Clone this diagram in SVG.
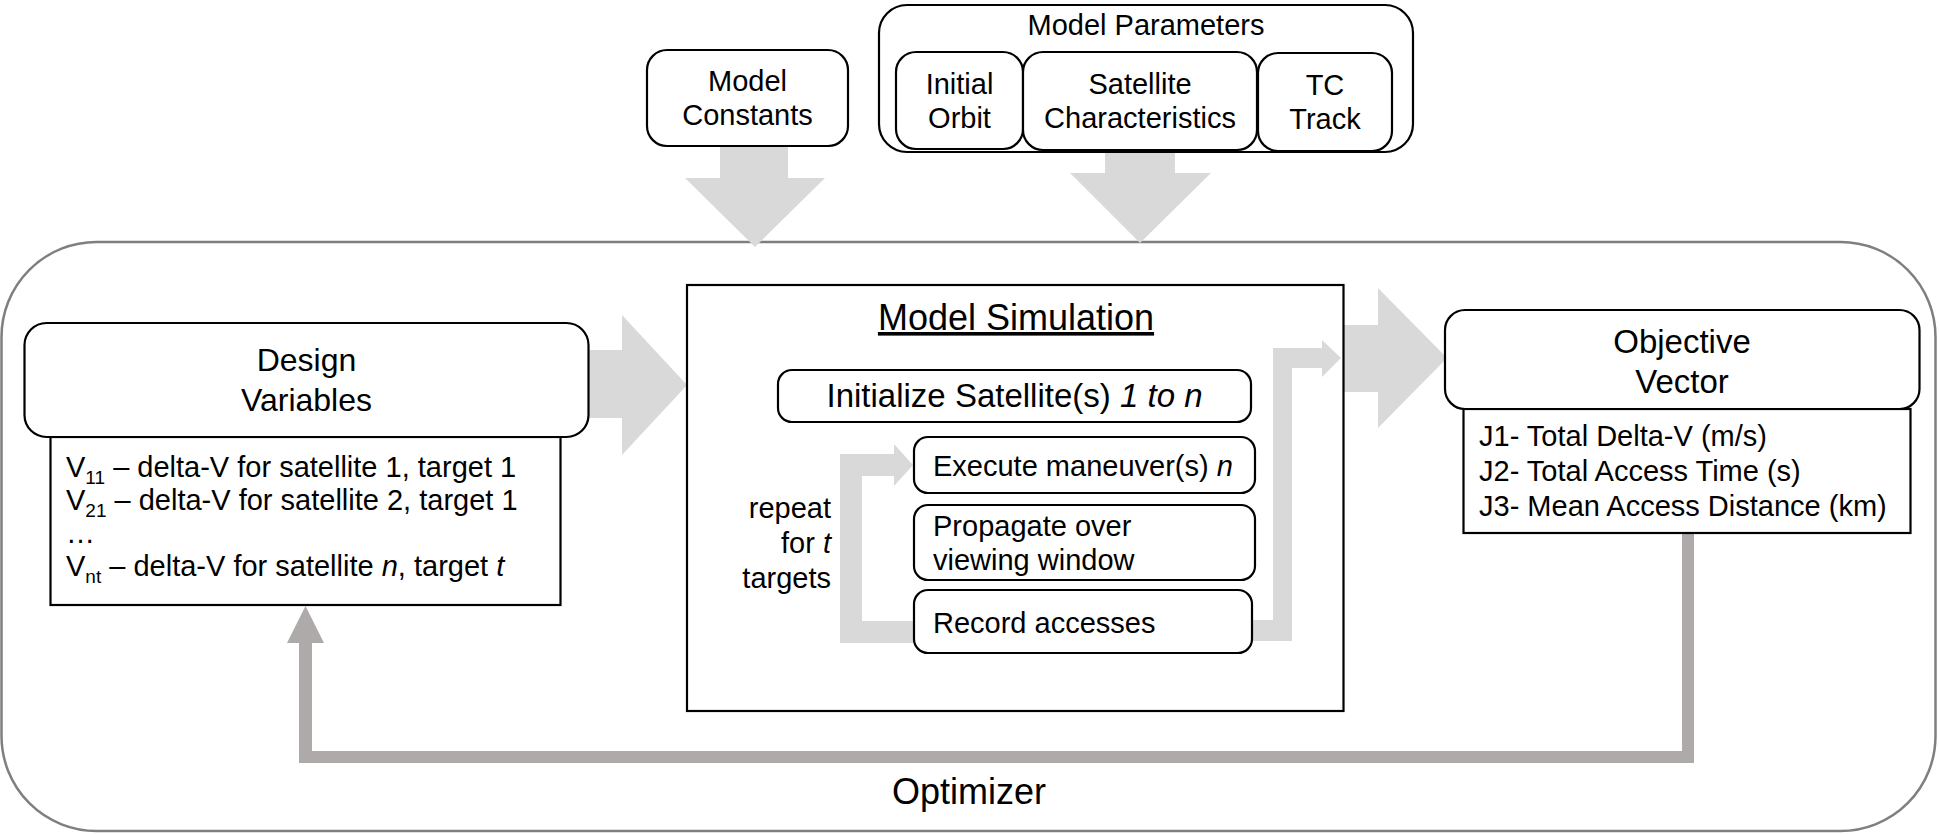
<svg xmlns="http://www.w3.org/2000/svg" width="1940" height="834" viewBox="0 0 1940 834">
<style>
text{font-family:"Liberation Sans",Arial,sans-serif;fill:#000}
.s29{font-size:29px}
.s33{font-size:33px}
.c{text-anchor:middle}
.r{text-anchor:end}
.box{fill:#fff;stroke:#000;stroke-width:2.2}
.frame{fill:none;stroke:#000;stroke-width:2.2}
.lt{fill:#d9d9d9;stroke:none}
.dk{fill:#aeaaaa;stroke:none}
</style>
<rect id="optimizer-frame" x="1.5" y="242" width="1934" height="589" rx="95" ry="95" fill="#fff" stroke="#7f7f7f" stroke-width="2.5"/>
<g id="connectors">
<path class="lt" d="M720 147 L788 147 L788 178 L825 178 L755 247 L685 178 L720 178 Z"/>
<path class="lt" d="M1105 153 L1175 153 L1175 173 L1211 173 L1140 243 L1070 173 L1105 173 Z"/>
<path class="lt" d="M588 350 L622 350 L622 315 L687 385 L622 455 L622 418 L588 418 Z"/>
<path class="lt" d="M1344 325 L1378 325 L1378 288 L1447 358 L1378 428 L1378 392 L1344 392 Z"/>
<path class="lt" d="M914 621 L862 621 L862 476 L894 476 L894 486 L913 465 L894 444 L894 454 L840 454 L840 643 L914 643 Z"/>
<path class="lt" d="M1253 620 L1273 620 L1273 348 L1322 348 L1322 340 L1341 358 L1322 377 L1322 368 L1292 368 L1292 641 L1253 641 Z"/>
<path class="dk" d="M1682 533 L1694 533 L1694 763 L299 763 L299 643 L287 643 L305.5 606 L324 643 L312 643 L312 751 L1682 751 Z"/>
</g>
<g id="model-constants">
<rect class="box" x="647" y="50" width="201" height="96" rx="20"/>
<text class="s29 c" x="747.5" y="91">Model</text>
<text class="s29 c" x="747.5" y="125">Constants</text>
</g>
<g id="model-parameters">
<rect class="box" x="879" y="5" width="534" height="147" rx="28"/>
<text class="s29 c" x="1146" y="35">Model Parameters</text>
</g>
<g id="initial-orbit">
<rect class="box" x="896" y="52" width="127" height="97" rx="20"/>
<text class="s29 c" x="959.5" y="94">Initial</text>
<text class="s29 c" x="959.5" y="128">Orbit</text>
</g>
<g id="satellite-characteristics">
<rect class="box" x="1023" y="52" width="234" height="98" rx="20"/>
<text class="s29 c" x="1140" y="94">Satellite</text>
<text class="s29 c" x="1140" y="128">Characteristics</text>
</g>
<g id="tc-track">
<rect class="box" x="1258" y="53" width="134" height="98" rx="20"/>
<text class="s29 c" x="1325" y="95">TC</text>
<text class="s29 c" x="1325" y="129">Track</text>
</g>
<g id="design-variables">
<rect class="box" x="50.5" y="437" width="510" height="168"/>
<rect class="box" x="24.5" y="323" width="564" height="114" rx="22"/>
<text class="c" style="font-size:32px" x="306.5" y="371">Design</text>
<text class="c" style="font-size:32px" x="306.5" y="411">Variables</text>
<text class="s29" x="66" y="477">V<tspan font-size="19" dy="7">11</tspan><tspan dy="-7"> – delta-V for satellite 1, target 1</tspan></text>
<text class="s29" x="66" y="510">V<tspan font-size="19" dy="7">21</tspan><tspan dy="-7"> – delta-V for satellite 2, target 1</tspan></text>
<text class="s29" x="66" y="543">…</text>
<text class="s29" x="66" y="576">V<tspan font-size="19" dy="7">nt</tspan><tspan dy="-7"> – delta-V for satellite </tspan><tspan font-style="italic">n</tspan>, target <tspan font-style="italic">t</tspan></text>
</g>
<g id="model-simulation">
<rect class="frame" x="687" y="285" width="656.5" height="426"/>
<text class="c" style="font-size:36px" x="1016" y="330" text-decoration="underline">Model Simulation</text>
<text class="s29 r" x="831" y="518">repeat</text>
<text class="s29 r" x="831" y="553">for <tspan font-style="italic">t</tspan></text>
<text class="s29 r" x="831" y="588">targets</text>
</g>
<g id="initialize-satellites">
<rect class="box" x="778" y="370" width="473" height="52" rx="14"/>
<text class="s33 c" x="1014.5" y="407">Initialize Satellite(s) <tspan font-style="italic">1 to n</tspan></text>
</g>
<g id="execute-maneuvers">
<rect class="box" x="914" y="437" width="341" height="56" rx="14"/>
<text class="s29" x="933" y="476">Execute maneuver(s) <tspan font-style="italic">n</tspan></text>
</g>
<g id="propagate">
<rect class="box" x="914" y="505" width="341" height="75" rx="14"/>
<text class="s29" x="933" y="536">Propagate over</text>
<text class="s29" x="933" y="570">viewing window</text>
</g>
<g id="record-accesses">
<rect class="box" x="914" y="590" width="338" height="63" rx="14"/>
<text class="s29" x="933" y="633">Record accesses</text>
</g>
<g id="objective-vector">
<rect class="box" x="1463.5" y="409" width="447" height="124"/>
<rect class="box" x="1445" y="310" width="474.5" height="99" rx="20"/>
<text class="s33 c" x="1682" y="353">Objective</text>
<text class="s33 c" x="1682" y="393">Vector</text>
<text class="s29" x="1479" y="446">J1- Total Delta-V (m/s)</text>
<text class="s29" x="1479" y="481">J2- Total Access Time (s)</text>
<text class="s29" x="1479" y="516">J3- Mean Access Distance (km)</text>
</g>
<text id="optimizer-label" class="c" style="font-size:36px" x="969" y="804">Optimizer</text>
</svg>
